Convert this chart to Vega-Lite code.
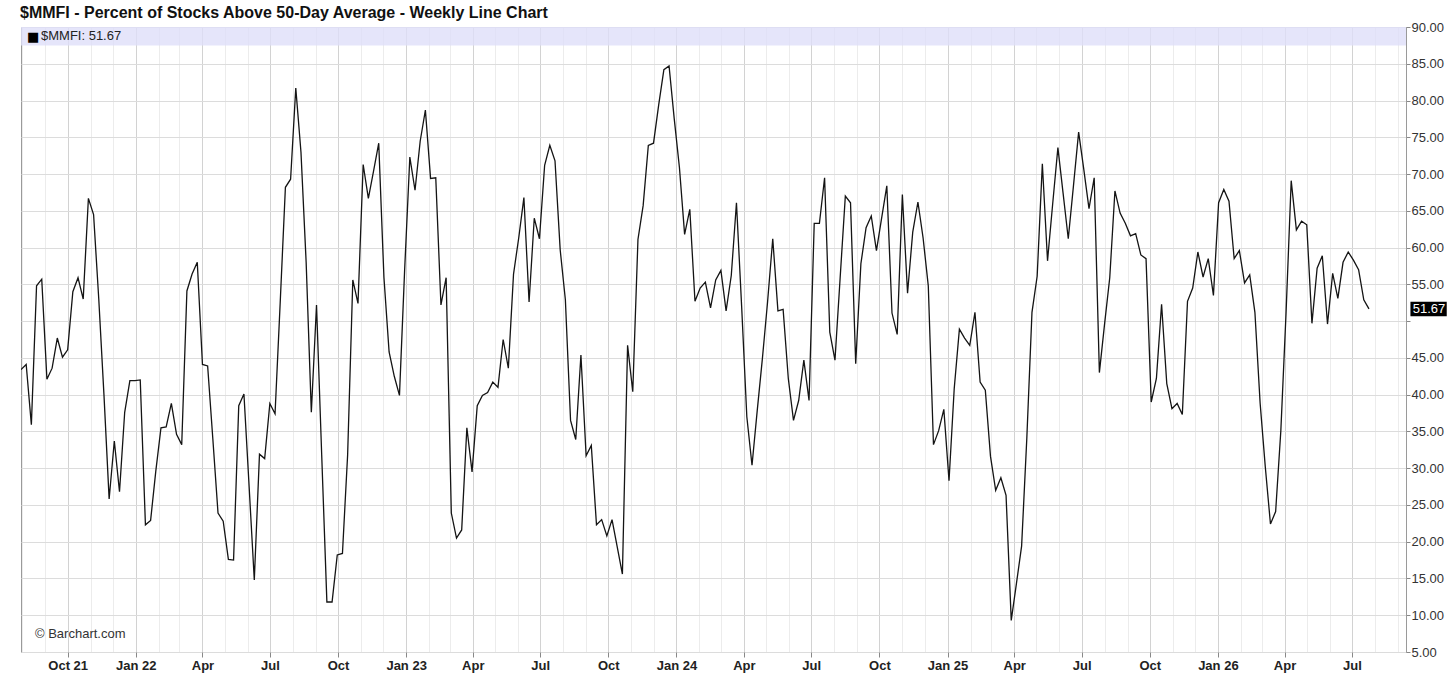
{
  "$schema": "https://vega.github.io/schema/vega-lite/v6.json",
  "width": 1385,
  "height": 625,
  "autosize": {"type": "none"},
  "padding": {"left": 21, "top": 27, "right": 50, "bottom": 37},
  "background": "white",
  "config": {
    "view": {"stroke": "#9a9a9a", "strokeWidth": 1},
    "font": "Liberation Sans"
  },
  "title": {
    "text": "$MMFI - Percent of Stocks Above 50-Day Average - Weekly Line Chart",
    "anchor": "start",
    "font": "Liberation Sans",
    "fontSize": 16,
    "fontWeight": "bold",
    "color": "#111111",
    "offset": 0,
    "dx": -1
  },
  "data": {
    "values": [
      {"d": "2021-07-30", "v": 43.4}, {"d": "2021-08-06", "v": 44.1}, {"d": "2021-08-13", "v": 35.9}, {"d": "2021-08-20", "v": 54.8},
      {"d": "2021-08-27", "v": 55.7}, {"d": "2021-09-03", "v": 42.1}, {"d": "2021-09-10", "v": 43.6}, {"d": "2021-09-17", "v": 47.7},
      {"d": "2021-09-24", "v": 45.1}, {"d": "2021-10-01", "v": 46.1}, {"d": "2021-10-08", "v": 54.0}, {"d": "2021-10-15", "v": 55.9},
      {"d": "2021-10-22", "v": 53.0}, {"d": "2021-10-29", "v": 66.7}, {"d": "2021-11-05", "v": 64.5}, {"d": "2021-11-12", "v": 53.0},
      {"d": "2021-11-19", "v": 40.0}, {"d": "2021-11-26", "v": 25.8}, {"d": "2021-12-03", "v": 33.7}, {"d": "2021-12-10", "v": 26.8},
      {"d": "2021-12-17", "v": 37.6}, {"d": "2021-12-24", "v": 41.9}, {"d": "2021-12-31", "v": 41.9},
      {"d": "2022-01-07", "v": 42.0}, {"d": "2022-01-14", "v": 22.3}, {"d": "2022-01-21", "v": 22.9}, {"d": "2022-01-28", "v": 29.6},
      {"d": "2022-02-04", "v": 35.5}, {"d": "2022-02-11", "v": 35.6}, {"d": "2022-02-18", "v": 38.8}, {"d": "2022-02-25", "v": 34.6},
      {"d": "2022-03-04", "v": 33.2}, {"d": "2022-03-11", "v": 54.1}, {"d": "2022-03-18", "v": 56.4}, {"d": "2022-03-25", "v": 58.0},
      {"d": "2022-04-01", "v": 44.1}, {"d": "2022-04-08", "v": 43.9}, {"d": "2022-04-15", "v": 34.0}, {"d": "2022-04-22", "v": 23.9},
      {"d": "2022-04-29", "v": 22.8}, {"d": "2022-05-06", "v": 17.6}, {"d": "2022-05-13", "v": 17.5}, {"d": "2022-05-20", "v": 38.5},
      {"d": "2022-05-27", "v": 40.1}, {"d": "2022-06-03", "v": 27.5}, {"d": "2022-06-10", "v": 14.8}, {"d": "2022-06-17", "v": 31.9},
      {"d": "2022-06-24", "v": 31.3}, {"d": "2022-07-01", "v": 38.8}, {"d": "2022-07-08", "v": 37.4}, {"d": "2022-07-15", "v": 52.6},
      {"d": "2022-07-22", "v": 68.2}, {"d": "2022-07-29", "v": 69.3}, {"d": "2022-08-05", "v": 81.7}, {"d": "2022-08-12", "v": 73.0},
      {"d": "2022-08-19", "v": 58.0}, {"d": "2022-08-26", "v": 37.6}, {"d": "2022-09-02", "v": 52.2}, {"d": "2022-09-09", "v": 31.8},
      {"d": "2022-09-16", "v": 11.8}, {"d": "2022-09-23", "v": 11.8}, {"d": "2022-09-30", "v": 18.2}, {"d": "2022-10-07", "v": 18.4},
      {"d": "2022-10-14", "v": 31.8}, {"d": "2022-10-21", "v": 55.6}, {"d": "2022-10-28", "v": 52.4}, {"d": "2022-11-04", "v": 71.3},
      {"d": "2022-11-11", "v": 66.7}, {"d": "2022-11-18", "v": 70.4}, {"d": "2022-11-25", "v": 74.2}, {"d": "2022-12-02", "v": 56.0},
      {"d": "2022-12-09", "v": 45.8}, {"d": "2022-12-16", "v": 42.5}, {"d": "2022-12-23", "v": 39.9}, {"d": "2022-12-30", "v": 57.0},
      {"d": "2023-01-06", "v": 72.3}, {"d": "2023-01-13", "v": 67.8}, {"d": "2023-01-20", "v": 74.5}, {"d": "2023-01-27", "v": 78.7},
      {"d": "2023-02-03", "v": 69.4}, {"d": "2023-02-10", "v": 69.5}, {"d": "2023-02-17", "v": 52.2}, {"d": "2023-02-24", "v": 55.9},
      {"d": "2023-03-03", "v": 23.9}, {"d": "2023-03-10", "v": 20.5}, {"d": "2023-03-17", "v": 21.6}, {"d": "2023-03-24", "v": 35.5},
      {"d": "2023-03-31", "v": 29.5}, {"d": "2023-04-07", "v": 38.5}, {"d": "2023-04-14", "v": 39.9}, {"d": "2023-04-21", "v": 40.3},
      {"d": "2023-04-28", "v": 41.7}, {"d": "2023-05-05", "v": 41.0}, {"d": "2023-05-12", "v": 47.5}, {"d": "2023-05-19", "v": 43.6},
      {"d": "2023-05-26", "v": 56.4}, {"d": "2023-06-02", "v": 61.3}, {"d": "2023-06-09", "v": 66.8}, {"d": "2023-06-16", "v": 52.6},
      {"d": "2023-06-23", "v": 64.0}, {"d": "2023-06-30", "v": 61.2}, {"d": "2023-07-07", "v": 71.2}, {"d": "2023-07-14", "v": 73.9},
      {"d": "2023-07-21", "v": 71.8}, {"d": "2023-07-28", "v": 59.7}, {"d": "2023-08-04", "v": 52.9}, {"d": "2023-08-11", "v": 36.5},
      {"d": "2023-08-18", "v": 33.9}, {"d": "2023-08-25", "v": 45.4}, {"d": "2023-09-01", "v": 31.7}, {"d": "2023-09-08", "v": 33.1},
      {"d": "2023-09-15", "v": 22.3}, {"d": "2023-09-22", "v": 23.0}, {"d": "2023-09-29", "v": 20.8}, {"d": "2023-10-06", "v": 23.0},
      {"d": "2023-10-13", "v": 19.3}, {"d": "2023-10-20", "v": 15.6}, {"d": "2023-10-27", "v": 46.7}, {"d": "2023-11-03", "v": 40.4},
      {"d": "2023-11-10", "v": 61.1}, {"d": "2023-11-17", "v": 65.7}, {"d": "2023-11-24", "v": 73.9}, {"d": "2023-12-01", "v": 74.2},
      {"d": "2023-12-08", "v": 79.4}, {"d": "2023-12-15", "v": 84.2}, {"d": "2023-12-22", "v": 84.7}, {"d": "2023-12-29", "v": 77.5},
      {"d": "2024-01-05", "v": 70.9}, {"d": "2024-01-12", "v": 61.8}, {"d": "2024-01-19", "v": 65.2}, {"d": "2024-01-26", "v": 52.7},
      {"d": "2024-02-02", "v": 54.5}, {"d": "2024-02-09", "v": 55.3}, {"d": "2024-02-16", "v": 51.8}, {"d": "2024-02-23", "v": 55.6},
      {"d": "2024-03-01", "v": 56.9}, {"d": "2024-03-08", "v": 51.4}, {"d": "2024-03-15", "v": 56.2}, {"d": "2024-03-22", "v": 66.1},
      {"d": "2024-03-29", "v": 52.0}, {"d": "2024-04-05", "v": 37.0}, {"d": "2024-04-12", "v": 30.4}, {"d": "2024-04-19", "v": 37.8},
      {"d": "2024-04-26", "v": 44.9}, {"d": "2024-05-03", "v": 52.6}, {"d": "2024-05-10", "v": 61.2}, {"d": "2024-05-17", "v": 51.4},
      {"d": "2024-05-24", "v": 51.6}, {"d": "2024-05-31", "v": 42.2}, {"d": "2024-06-07", "v": 36.5}, {"d": "2024-06-14", "v": 39.2},
      {"d": "2024-06-21", "v": 44.7}, {"d": "2024-06-28", "v": 39.2}, {"d": "2024-07-05", "v": 63.3}, {"d": "2024-07-12", "v": 63.3},
      {"d": "2024-07-19", "v": 69.5}, {"d": "2024-07-26", "v": 48.5}, {"d": "2024-08-02", "v": 44.7}, {"d": "2024-08-09", "v": 55.9},
      {"d": "2024-08-16", "v": 67.0}, {"d": "2024-08-23", "v": 66.1}, {"d": "2024-08-30", "v": 44.2}, {"d": "2024-09-06", "v": 57.8},
      {"d": "2024-09-13", "v": 62.7}, {"d": "2024-09-20", "v": 64.3}, {"d": "2024-09-27", "v": 59.6}, {"d": "2024-10-04", "v": 64.0},
      {"d": "2024-10-11", "v": 68.4}, {"d": "2024-10-18", "v": 51.1}, {"d": "2024-10-25", "v": 48.2}, {"d": "2024-11-01", "v": 67.2},
      {"d": "2024-11-08", "v": 53.8}, {"d": "2024-11-15", "v": 62.1}, {"d": "2024-11-22", "v": 66.2}, {"d": "2024-11-29", "v": 61.3},
      {"d": "2024-12-06", "v": 54.8}, {"d": "2024-12-13", "v": 33.2}, {"d": "2024-12-20", "v": 35.1}, {"d": "2024-12-27", "v": 38.0},
      {"d": "2025-01-03", "v": 28.3}, {"d": "2025-01-10", "v": 40.8}, {"d": "2025-01-17", "v": 48.9}, {"d": "2025-01-24", "v": 47.7},
      {"d": "2025-01-31", "v": 46.7}, {"d": "2025-02-07", "v": 51.2}, {"d": "2025-02-14", "v": 41.7}, {"d": "2025-02-21", "v": 40.6},
      {"d": "2025-02-28", "v": 31.6}, {"d": "2025-03-07", "v": 27.0}, {"d": "2025-03-14", "v": 28.7}, {"d": "2025-03-21", "v": 26.3},
      {"d": "2025-03-28", "v": 9.3}, {"d": "2025-04-04", "v": 14.3}, {"d": "2025-04-11", "v": 19.4}, {"d": "2025-04-18", "v": 34.0},
      {"d": "2025-04-25", "v": 51.2}, {"d": "2025-05-02", "v": 56.1}, {"d": "2025-05-09", "v": 71.4}, {"d": "2025-05-16", "v": 58.2},
      {"d": "2025-05-23", "v": 66.0}, {"d": "2025-05-30", "v": 73.6}, {"d": "2025-06-06", "v": 67.4}, {"d": "2025-06-13", "v": 61.2},
      {"d": "2025-06-20", "v": 68.4}, {"d": "2025-06-27", "v": 75.7}, {"d": "2025-07-04", "v": 70.6}, {"d": "2025-07-11", "v": 65.3},
      {"d": "2025-07-18", "v": 69.5}, {"d": "2025-07-25", "v": 43.0}, {"d": "2025-08-01", "v": 49.6}, {"d": "2025-08-08", "v": 55.9},
      {"d": "2025-08-15", "v": 67.7}, {"d": "2025-08-22", "v": 64.7}, {"d": "2025-08-29", "v": 63.3}, {"d": "2025-09-05", "v": 61.6},
      {"d": "2025-09-12", "v": 61.9}, {"d": "2025-09-19", "v": 59.0}, {"d": "2025-09-26", "v": 58.5}, {"d": "2025-10-03", "v": 39.0},
      {"d": "2025-10-10", "v": 42.2}, {"d": "2025-10-17", "v": 52.3}, {"d": "2025-10-24", "v": 41.5}, {"d": "2025-10-31", "v": 38.1},
      {"d": "2025-11-07", "v": 38.8}, {"d": "2025-11-14", "v": 37.3}, {"d": "2025-11-21", "v": 52.7}, {"d": "2025-11-28", "v": 54.5},
      {"d": "2025-12-05", "v": 59.4}, {"d": "2025-12-12", "v": 56.0}, {"d": "2025-12-19", "v": 58.5}, {"d": "2025-12-26", "v": 53.5},
      {"d": "2026-01-02", "v": 66.1}, {"d": "2026-01-09", "v": 67.9}, {"d": "2026-01-16", "v": 66.3}, {"d": "2026-01-23", "v": 58.5},
      {"d": "2026-01-30", "v": 59.6}, {"d": "2026-02-06", "v": 55.2}, {"d": "2026-02-13", "v": 56.3}, {"d": "2026-02-20", "v": 51.2},
      {"d": "2026-02-27", "v": 38.9}, {"d": "2026-03-06", "v": 30.2}, {"d": "2026-03-13", "v": 22.4}, {"d": "2026-03-20", "v": 24.1},
      {"d": "2026-03-27", "v": 35.1}, {"d": "2026-04-03", "v": 51.0}, {"d": "2026-04-10", "v": 69.1}, {"d": "2026-04-17", "v": 62.4},
      {"d": "2026-04-24", "v": 63.6}, {"d": "2026-05-01", "v": 63.1}, {"d": "2026-05-08", "v": 49.7}, {"d": "2026-05-15", "v": 57.2},
      {"d": "2026-05-22", "v": 58.9}, {"d": "2026-05-29", "v": 49.6}, {"d": "2026-06-05", "v": 56.5}, {"d": "2026-06-12", "v": 53.1},
      {"d": "2026-06-19", "v": 58.0}, {"d": "2026-06-26", "v": 59.4}, {"d": "2026-07-03", "v": 58.3}, {"d": "2026-07-10", "v": 57.0},
      {"d": "2026-07-17", "v": 52.9}, {"d": "2026-07-24", "v": 51.67}
    ]
  },
  "layer": [
    {
      "mark": {"type": "line", "color": "#141414", "strokeWidth": 1.3, "clip": true},
      "encoding": {
        "x": {
          "field": "d",
          "type": "temporal",
          "scale": {
            "type": "utc",
            "domain": [
              {"year": 2021, "month": 7, "date": 30, "utc": true},
              {"year": 2026, "month": 9, "date": 12, "utc": true}
            ]
          },
          "axis": {
            "title": null,
            "grid": true,
            "tickCount": {"interval": "month", "step": 1},
            "labelExpr": "utcmonth(datum.value) % 3 != 0 ? '' : ((utcmonth(datum.value) == 0 || (utcyear(datum.value) == 2021 && utcmonth(datum.value) == 9)) ? utcFormat(datum.value, '%b %y') : utcFormat(datum.value, '%b'))",
            "labelOverlap": false,
            "labelFont": "Liberation Sans",
            "labelFontWeight": "bold",
            "labelFontSize": 13,
            "labelColor": "#222222",
            "labelPadding": 2,
            "tickSize": 5,
            "tickColor": "#888888",
            "tickOpacity": {"condition": {"test": "utcmonth(datum.value) % 3 == 0", "value": 1}, "value": 0},
            "gridColor": {"condition": {"test": "utcmonth(datum.value) % 3 == 0", "value": "#d2d2d2"}, "value": "#ececec"},
            "domain": false
          }
        },
        "y": {
          "field": "v",
          "type": "quantitative",
          "scale": {"domain": [5, 90], "nice": false, "zero": false},
          "axis": {
            "orient": "right",
            "title": null,
            "grid": true,
            "gridOpacity": 1,
            "gridColor": "#dcdcdc",
            "values": [5, 10, 15, 20, 25, 30, 35, 40, 45, 50, 55, 60, 65, 70, 75, 80, 85, 90],
            "tickCount": 20,
            "labelExpr": "datum.value == 50 ? '' : format(datum.value, '.2f')",
            "labelOverlap": false,
            "labelBound": false,
            "labelFont": "Liberation Sans",
            "labelFontSize": 13,
            "labelColor": "#333333",
            "labelPadding": 1,
            "tickSize": 4,
            "tickColor": "#888888",
            "domainColor": "#9a9a9a"
          }
        }
      }
    },
    {
      "data": {"values": [{"band": "legend"}]},
      "mark": {"type": "rect", "color": "#dedef9", "opacity": 0.8},
      "encoding": {
        "y": {"datum": 87.5, "type": "quantitative"},
        "y2": {"datum": 90}
      }
    },
    {
      "data": {"values": [{"t": "■"}]},
      "mark": {"type": "text", "align": "left", "baseline": "middle", "dx": 6, "dy": 1, "fontSize": 13, "color": "#000000", "font": "DejaVu Sans"},
      "encoding": {
        "x": {"datum": {"year": 2021, "month": 7, "date": 30, "utc": true}, "type": "temporal"},
        "y": {"datum": 88.75, "type": "quantitative"},
        "text": {"field": "t"}
      }
    },
    {
      "data": {"values": [{"t": "$MMFI: 51.67"}]},
      "mark": {"type": "text", "align": "left", "baseline": "middle", "dx": 20, "fontSize": 13, "color": "#222222", "font": "Liberation Sans"},
      "encoding": {
        "x": {"datum": {"year": 2021, "month": 7, "date": 30, "utc": true}, "type": "temporal"},
        "y": {"datum": 88.75, "type": "quantitative"},
        "text": {"field": "t"}
      }
    },
    {
      "data": {"values": [{"t": "© Barchart.com"}]},
      "mark": {"type": "text", "align": "left", "baseline": "middle", "dx": 14, "fontSize": 13, "color": "#333333", "font": "Liberation Sans"},
      "encoding": {
        "x": {"datum": {"year": 2021, "month": 7, "date": 30, "utc": true}, "type": "temporal"},
        "y": {"datum": 7.4, "type": "quantitative"},
        "text": {"field": "t"}
      }
    },
    {
      "data": {"values": [{"last": 51.67}]},
      "mark": {"type": "rect", "color": "#000000"},
      "encoding": {
        "x": {"datum": {"year": 2026, "month": 9, "date": 18, "utc": true}, "type": "temporal"},
        "x2": {"datum": {"year": 2026, "month": 11, "date": 6, "utc": true}},
        "y": {"datum": 52.65, "type": "quantitative"},
        "y2": {"datum": 50.65}
      }
    },
    {
      "data": {"values": [{"last": 51.67}]},
      "mark": {"type": "text", "align": "center", "baseline": "middle", "fontSize": 13, "color": "#ffffff", "font": "Liberation Sans"},
      "encoding": {
        "x": {"datum": {"year": 2026, "month": 10, "date": 13, "utc": true}, "type": "temporal"},
        "y": {"field": "last", "type": "quantitative"},
        "text": {"field": "last", "type": "quantitative", "format": ".2f"}
      }
    }
  ]
}
